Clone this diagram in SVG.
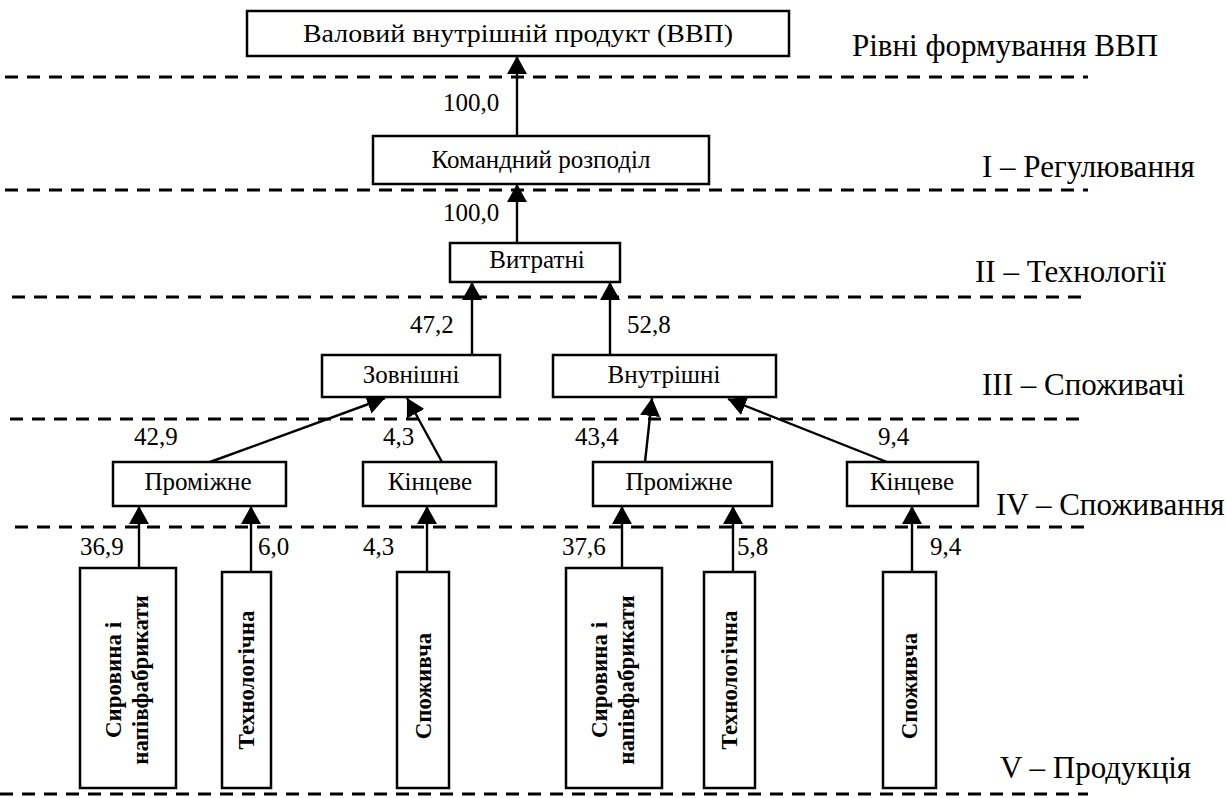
<svg xmlns="http://www.w3.org/2000/svg" width="1226" height="798" viewBox="0 0 1226 798">
<defs>
<marker id="ah" markerUnits="userSpaceOnUse" markerWidth="18" markerHeight="20" viewBox="0 0 18 20" refX="18" refY="10" orient="auto">
<path d="M0,0 L18,10 L0,20 Z" fill="#000"/>
</marker>
<style>
.box{fill:#fff;stroke:#000;stroke-width:2.5}
.t{font-family:"Liberation Serif","Times New Roman",serif;font-size:25px;fill:#000;text-anchor:middle}
.n{font-family:"Liberation Serif","Times New Roman",serif;font-size:25px;fill:#000}
.lv{font-family:"Liberation Serif","Times New Roman",serif;font-size:31px;fill:#000}
.v{font-family:"Liberation Serif","Times New Roman",serif;font-size:23px;font-weight:bold;fill:#000;text-anchor:middle}
.dash{stroke:#000;stroke-width:3;stroke-dasharray:13 9;fill:none}
.c{stroke:#000;stroke-width:2.4;fill:none;marker-end:url(#ah)}
</style>
</defs>
<rect width="1226" height="798" fill="#fff"/>
<g id="levels">
<line class="dash" x1="5" y1="77" x2="1088" y2="77"/>
<line class="dash" x1="5" y1="190" x2="1088" y2="190"/>
<line class="dash" x1="12" y1="297" x2="1088" y2="297"/>
<line class="dash" x1="10" y1="419" x2="1088" y2="419"/>
<line class="dash" x1="15" y1="527" x2="1088" y2="527"/>
<line class="dash" x1="0" y1="794" x2="1088" y2="794"/>
<text class="lv" x="852" y="56">Рівні формування ВВП</text>
<text class="lv" x="982" y="177">I – Регулювання</text>
<text class="lv" x="975" y="282">II – Технології</text>
<text class="lv" x="982" y="395">III – Споживачі</text>
<text class="lv" x="996" y="515">IV – Споживання</text>
<text class="lv" x="1000" y="778">V – Продукція</text>
</g>
<g id="connectors">
<line class="c" x1="517" y1="136" x2="517" y2="56"/>
<line class="c" x1="517" y1="243" x2="517" y2="184"/>
<line class="c" x1="472" y1="355" x2="472" y2="282"/>
<line class="c" x1="610" y1="355" x2="610" y2="282"/>
<line class="c" x1="210" y1="462" x2="385" y2="398"/>
<line class="c" x1="442" y1="462" x2="407" y2="398"/>
<line class="c" x1="645" y1="462" x2="652" y2="398"/>
<line class="c" x1="887" y1="462" x2="728" y2="399"/>
<line class="c" x1="139" y1="568" x2="139" y2="506"/>
<line class="c" x1="251" y1="572" x2="251" y2="506"/>
<line class="c" x1="427" y1="572" x2="427" y2="506"/>
<line class="c" x1="622" y1="568" x2="622" y2="506"/>
<line class="c" x1="733" y1="572" x2="733" y2="506"/>
<line class="c" x1="912" y1="572" x2="912" y2="506"/>
<text class="n" x="443" y="111">100,0</text>
<text class="n" x="443" y="221">100,0</text>
<text class="n" x="410" y="333">47,2</text>
<text class="n" x="627" y="333">52,8</text>
<text class="n" x="134" y="445">42,9</text>
<text class="n" x="383" y="445">4,3</text>
<text class="n" x="575" y="445">43,4</text>
<text class="n" x="878" y="445">9,4</text>
<text class="n" x="80" y="555">36,9</text>
<text class="n" x="258" y="555">6,0</text>
<text class="n" x="363" y="555">4,3</text>
<text class="n" x="562" y="555">37,6</text>
<text class="n" x="737" y="555">5,8</text>
<text class="n" x="930" y="555">9,4</text>
</g>
<g id="vvp"><rect class="box" x="247" y="11" width="542" height="45"/><text class="t" x="518" y="42" font-size="26" textLength="430" lengthAdjust="spacingAndGlyphs">Валовий внутрішній продукт (ВВП)</text></g>
<g id="komand"><rect class="box" x="373" y="136" width="336" height="48"/><text class="t" x="541" y="168">Командний розподіл</text></g>
<g id="vytratni"><rect class="box" x="450" y="243" width="170" height="39"/><text class="t" x="537" y="268">Витратні</text></g>
<g id="zovnishni"><rect class="box" x="322" y="355" width="178" height="42"/><text class="t" x="411" y="383">Зовнішні</text></g>
<g id="vnutrishni"><rect class="box" x="553" y="355" width="223" height="42"/><text class="t" x="664" y="383">Внутрішні</text></g>
<g id="promizhne1"><rect class="box" x="113" y="462" width="173" height="44"/><text class="t" x="198" y="490">Проміжне</text></g>
<g id="kintseve1"><rect class="box" x="363" y="462" width="133" height="44"/><text class="t" x="430" y="490">Кінцеве</text></g>
<g id="promizhne2"><rect class="box" x="593" y="462" width="179" height="44"/><text class="t" x="679" y="490">Проміжне</text></g>
<g id="kintseve2"><rect class="box" x="847" y="462" width="131" height="44"/><text class="t" x="912" y="490">Кінцеве</text></g>
<g id="syrovyna1"><rect class="box" x="80" y="568" width="96" height="220"/><text class="v" transform="translate(121,680) rotate(-90)"><tspan x="0" y="0">Сировина і</tspan><tspan x="0" y="27">напівфабрикати</tspan></text></g>
<g id="tekhn1"><rect class="box" x="222" y="572" width="49" height="216"/><text class="v" transform="translate(254,680) rotate(-90)">Технологічна</text></g>
<g id="spozh1"><rect class="box" x="397" y="572" width="52" height="216"/><text class="v" transform="translate(431,686) rotate(-90)">Споживча</text></g>
<g id="syrovyna2"><rect class="box" x="566" y="568" width="96" height="220"/><text class="v" transform="translate(607,680) rotate(-90)"><tspan x="0" y="0">Сировина і</tspan><tspan x="0" y="27">напівфабрикати</tspan></text></g>
<g id="tekhn2"><rect class="box" x="704" y="572" width="51" height="216"/><text class="v" transform="translate(737,680) rotate(-90)">Технологічна</text></g>
<g id="spozh2"><rect class="box" x="883" y="572" width="53" height="216"/><text class="v" transform="translate(917,686) rotate(-90)">Споживча</text></g>
</svg>
